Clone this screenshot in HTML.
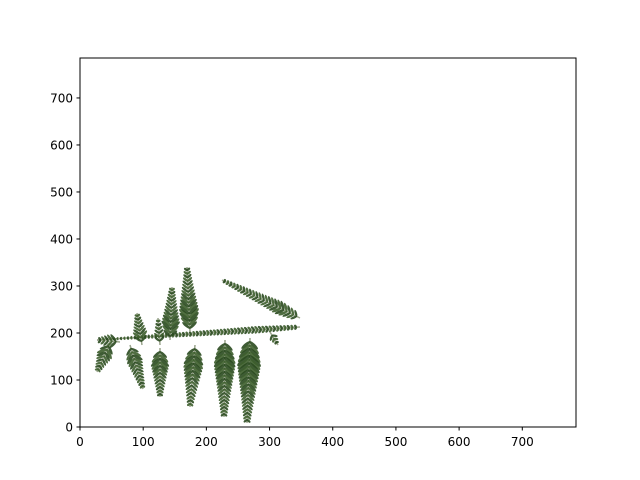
<!DOCTYPE html>
<html><head><meta charset="utf-8"><style>
body{margin:0;background:#fff;}
svg{display:block;font-family:"DejaVu Sans","Liberation Sans",sans-serif;}
</style></head><body>
<svg width="640" height="480" viewBox="0 0 640 480">
<g id="fern"></g>
<rect x="80" y="58" width="496" height="369" fill="none" stroke="#000" stroke-width="1"/>
<g id="xt"></g>
<g id="yt"></g>
</svg>
<script>
const xTicks=[0,100,200,300,400,500,600,700];
const yTicks=[0,100,200,300,400,500,600,700];
const xMin=0,xMax=785,yMin=0,yMax=785;
const X=v=>80+(v-xMin)/(xMax-xMin)*496;
const Y=v=>427-(v-yMin)/(yMax-yMin)*369;
const NS="http://www.w3.org/2000/svg";
function mk(t,a,p){const e=document.createElementNS(NS,t);for(const k in a)e.setAttribute(k,a[k]);p.appendChild(e);return e;}
const xt=document.getElementById('xt'),yt=document.getElementById('yt');
xTicks.forEach(v=>{const x=X(v);
 const l=mk('line',{x1:x,x2:x,y1:427,y2:430.5,stroke:'#000'},xt);
 
 
 const t=mk('text',{x:x,y:446,'font-size':12,'text-anchor':'middle'},xt);t.textContent=v;
 
 });
yTicks.forEach(v=>{const y=Y(v);
 const l=mk('line',{x1:76.5,x2:80,y1:y,y2:y,stroke:'#000'},yt);
 
 
 const t=mk('text',{x:73,y:y+4.5,'font-size':12,'text-anchor':'end'},yt);t.textContent=v;
 
 });
// fern fronds in pixel coords: [x1,y1,x2,y2,size]
const fronds=[[300,327,97,340,4],[250,338,247,423,13],[225,340,224,417,12],[195,345,190,407,11],[160,348,160,397,10],[130,345,143,389,9],[190,332,187,267,11],[170,340,172,287,10],[142,345,137,313,8],[160,345,158,318,6],[110,343,97,372,9],[300,318,222,280,8],[120,342,97,340,8],[270,332,278,345,5]];
const g=document.getElementById('fern');
fronds.forEach(f=>{const [x1,y1,x2,y2,s]=f;
 const l=mk('line',{x1,y1,x2,y2,stroke:'#9aa48c','stroke-width':1.5},g);
 
 
 const dx=x2-x1,dy=y2-y1,L=Math.hypot(dx,dy),ux=dx/L,uy=dy/L,n=Math.floor(L/3.5);
 for(let i=1;i<n;i++){const t=i/n,px=x1+dx*t,py=y1+dy*t,sz=s*Math.min(1,0.5+2.5*t)*(1-t*0.8);
  [1,-1].forEach(sg=>{const ang=Math.atan2(uy,ux)*180/Math.PI+sg*48;
   const e=mk('ellipse',{cx:px+Math.cos(ang*Math.PI/180)*sz*0.7,cy:py+Math.sin(ang*Math.PI/180)*sz*0.7,rx:sz*0.75,ry:Math.max(1.2,sz*0.22),fill:(i%2?'#2a4a1f':'#3d5e2c'),'fill-opacity':0.9},g);
   e.setAttribute('transform',`rotate(${ang} ${e.getAttribute('cx')} ${e.getAttribute('cy')})`);
   
   });}
});
</script>
</body></html>
